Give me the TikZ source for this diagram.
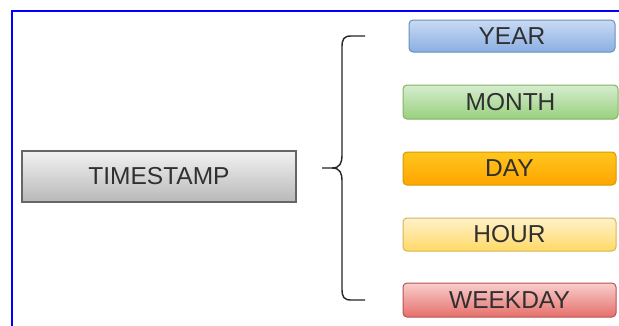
\documentclass[tikz,border=0pt]{standalone}
\usepackage{fontspec}
\setmainfont{Liberation Sans}
\definecolor{yTop}{HTML}{C9DBF4}
\definecolor{yBot}{HTML}{8AAEE2}
\definecolor{yDr}{HTML}{6C8EBF}
\definecolor{mTop}{HTML}{D5EDCF}
\definecolor{mBot}{HTML}{99D07E}
\definecolor{mDr}{HTML}{82B366}
\definecolor{dTop}{HTML}{FFC61E}
\definecolor{dBot}{HTML}{FFA500}
\definecolor{dDr}{HTML}{D79B00}
\definecolor{hTop}{HTML}{FFF2CC}
\definecolor{hBot}{HTML}{FFD966}
\definecolor{hDr}{HTML}{D6B656}
\definecolor{wTop}{HTML}{F8CECC}
\definecolor{wBot}{HTML}{E66F6B}
\definecolor{wDr}{HTML}{B85450}
\definecolor{tTop}{HTML}{F2F2F2}
\definecolor{tBot}{HTML}{B8B8B8}
\definecolor{txt}{HTML}{303030}
\begin{document}
\begin{tikzpicture}[x=1pt,y=-1pt,
  lbl/.style={text=txt, font=\fontsize{24.5}{26}\selectfont},
  box/.style={draw, line width=1pt, rounded corners=4pt, minimum width=213pt, minimum height=33pt,
    inner sep=0pt, lbl},
  yearbox/.style={box, draw=yDr, top color=yTop, bottom color=yBot},
  monthbox/.style={box, draw=mDr, top color=mTop, bottom color=mBot},
  daybox/.style={box, draw=dDr, top color=dTop, bottom color=dBot},
  hourbox/.style={box, draw=hDr, top color=hTop, bottom color=hBot},
  wdbox/.style={box, draw=wDr, top color=wTop, bottom color=wBot},
  tsbox/.style={draw=black!60, line width=1.2pt, minimum width=274pt, minimum height=51pt, inner sep=0pt,
    top color=tTop, bottom color=tBot, lbl},
  brace/.style={draw=black!85, line width=1.4pt}]
\useasboundingbox (0,0) rectangle (619,325);
\clip (0,0) rectangle (619,325);
\fill[white] (0,0) rectangle (619,325);
\draw[blue, line width=1.4pt] (12,340) -- (12,11) -- (640,11);
\node[tsbox] (ts) at (159,176.5) {TIMESTAMP};
\node[yearbox, minimum width=206pt, minimum height=32pt] (year) at (512,36) {YEAR};
\node[monthbox, minimum width=215pt, minimum height=34pt] (month) at (510.5,102) {MONTH};
\node[daybox] (day) at (509.5,168.5) {DAY};
\node[hourbox] (hour) at (509.5,234.5) {HOUR};
\node[wdbox, minimum height=34pt] (weekday) at (509.5,300) {WEEKDAY};
\coordinate (btop) at (365,36);
\coordinate (btip) at (322,168);
\coordinate (bbot) at (365,300);
\draw[brace] (btop) -- (351,36) .. controls (344,36) and (342,39) .. (342,47) -- (342,155)
  .. controls (342,163) and (340,168) .. (332,168) -- (btip);
\draw[brace] (332,168) .. controls (340,168) and (342,173) .. (342,181) -- (342,289)
  .. controls (342,297) and (344,300) .. (351,300) -- (bbot);
\end{tikzpicture}
\end{document}
